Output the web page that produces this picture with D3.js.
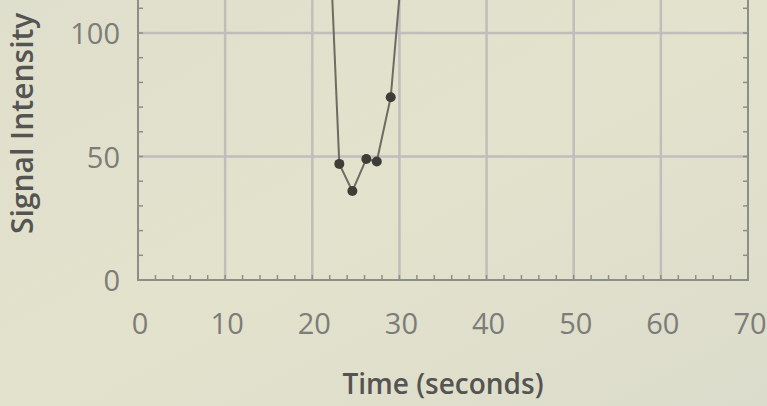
<!DOCTYPE html>
<html>
<head>
<meta charset="utf-8">
<script src="https://cdn.jsdelivr.net/npm/d3@7"></script>
<style>
  html, body { margin: 0; padding: 0; background: #e1e0cd; }
  svg { display: block; }
  text { font-family: "Open Sans", "DejaVu Sans", sans-serif; }
</style>
</head>
<body>
<svg id="chart" width="767" height="406"></svg>
<script>
// data (points beyond the top edge are cut off)
var times = [21.5, 23.1, 24.6, 26.2, 27.4, 29.0, 30.5];
var intensity = [180, 47, 36, 49, 48, 74, 135];
var xTicks = [0, 10, 20, 30, 40, 50, 60, 70];
var yTicks = [0, 50, 100];
var xTitle = "Time (seconds)";
var yTitle = "Signal Intensity";

var svg = d3.select("#chart");
var W = 767, H = 406;

var x = d3.scaleLinear().domain([0, 70]).range([138, 748]);
var y = d3.scaleLinear().domain([0, 100]).range([280, 33]);

// paper background
var defs = svg.append("defs");
var grad = defs.append("linearGradient").attr("id", "paper")
  .attr("x1", 0).attr("y1", 0).attr("x2", 1).attr("y2", 1);
grad.append("stop").attr("offset", 0).attr("stop-color", "#dfdfcd");
grad.append("stop").attr("offset", 0.5).attr("stop-color", "#e3e2cc");
grad.append("stop").attr("offset", 1).attr("stop-color", "#dcdccc");
svg.append("rect").attr("width", W).attr("height", H).attr("fill", "url(#paper)");

defs.append("clipPath").attr("id", "plot")
  .append("rect").attr("x", x(0)).attr("y", 0)
  .attr("width", x(70) - x(0)).attr("height", y(0));

var grid = svg.append("g").attr("stroke", "#c0bdbb").attr("stroke-width", 2.5);

// vertical grid
grid.selectAll(".vg").data(xTicks.slice(1, -1)).enter().append("line")
  .attr("x1", function(d){ return x(d); })
  .attr("x2", function(d){ return x(d); })
  .attr("y1", 0).attr("y2", y(0));

// horizontal grid
grid.selectAll(".hg").data(yTicks.slice(1)).enter().append("line")
  .attr("x1", x(0)).attr("x2", x(70))
  .attr("y1", function(d){ return y(d); })
  .attr("y2", function(d){ return y(d); });

// minor ticks, pointing inward
var minorX = d3.range(0, 71, 2);
var minorY = d3.range(0, 114, 10);
var ticks = svg.append("g").attr("stroke", "#8e8e88").attr("stroke-width", 1.5);
ticks.selectAll(".bx").data(minorX).enter().append("line")
  .attr("x1", function(d){ return x(d); }).attr("x2", function(d){ return x(d); })
  .attr("y1", y(0)).attr("y2", y(0) - 5);
ticks.selectAll(".ly").data(minorY).enter().append("line")
  .attr("x1", x(0)).attr("x2", x(0) + 5)
  .attr("y1", function(d){ return y(d); }).attr("y2", function(d){ return y(d); });
ticks.selectAll(".ry").data(minorY).enter().append("line")
  .attr("x1", x(70)).attr("x2", x(70) - 5)
  .attr("y1", function(d){ return y(d); }).attr("y2", function(d){ return y(d); });

// frame: left, bottom, right
svg.append("path")
  .attr("d", "M" + x(0) + ",0V" + y(0) + "H" + x(70) + "V0")
  .attr("fill", "none").attr("stroke", "#8e8e88").attr("stroke-width", 2);

// tick labels
svg.selectAll(".xl").data(xTicks).enter().append("text")
  .attr("x", function(d){ return x(d) + 2; })
  .attr("y", 334)
  .attr("text-anchor", "middle")
  .attr("font-size", 29)
  .attr("fill", "#7c7c78")
  .text(function(d){ return d; });

svg.selectAll(".yl").data(yTicks).enter().append("text")
  .attr("x", 120)
  .attr("y", function(d){ return y(d) + 11; })
  .attr("text-anchor", "end")
  .attr("font-size", 29)
  .attr("fill", "#7c7c78")
  .text(function(d){ return d; });

// axis titles
svg.append("text")
  .attr("x", 443).attr("y", 394)
  .attr("text-anchor", "middle")
  .attr("font-size", 28)
  .attr("font-weight", 600)
  .attr("fill", "#545452")
  .text(xTitle);

svg.append("text")
  .attr("transform", "translate(33,234) rotate(-90)")
  .attr("text-anchor", "start")
  .attr("font-size", 30)
  .attr("font-weight", 600)
  .attr("fill", "#545452")
  .text(yTitle);

// the series
var plot = svg.append("g").attr("clip-path", "url(#plot)");
var pts = times.map(function(t, i){ return [t, intensity[i]]; });

plot.append("path")
  .datum(pts)
  .attr("fill", "none")
  .attr("stroke", "#6c6c62")
  .attr("stroke-width", 2)
  .attr("d", d3.line()
    .x(function(d){ return x(d[0]); })
    .y(function(d){ return y(d[1]); }));

plot.selectAll("circle").data(pts).enter().append("circle")
  .attr("cx", function(d){ return x(d[0]); })
  .attr("cy", function(d){ return y(d[1]); })
  .attr("r", 5)
  .attr("fill", "#3e3e38");
</script>
</body>
</html>
